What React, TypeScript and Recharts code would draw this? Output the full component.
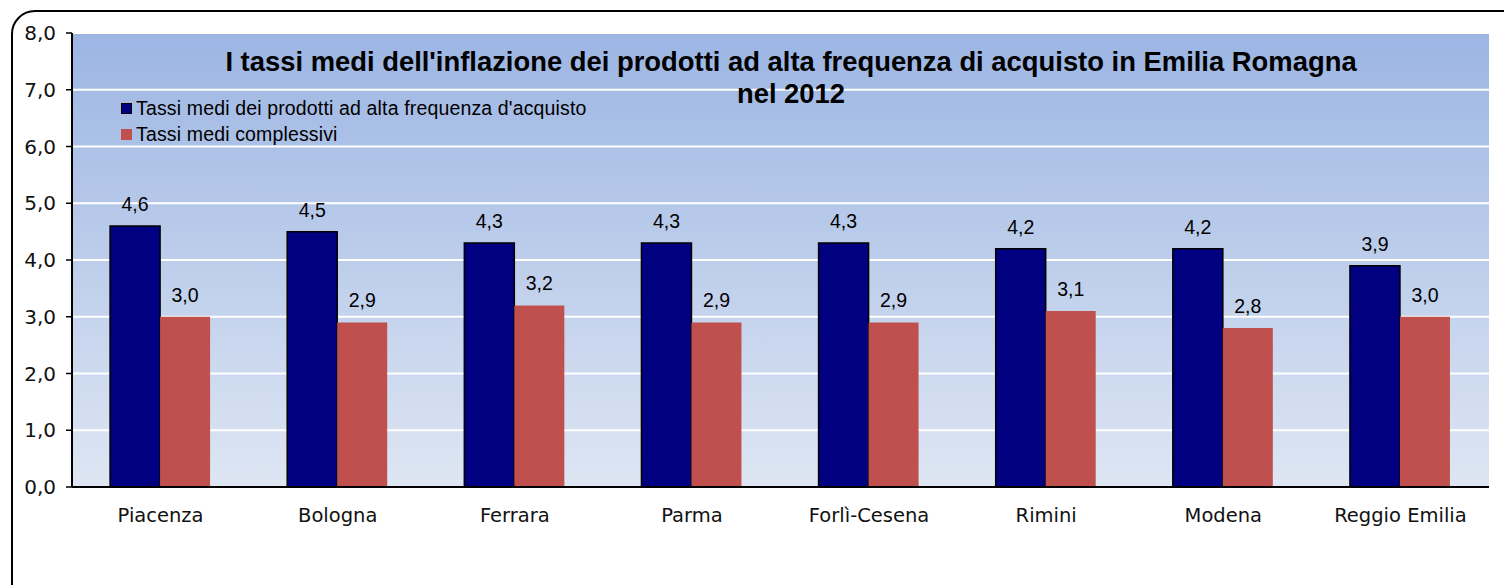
import React from 'react';
import {
  BarChart, Bar, XAxis, YAxis, CartesianGrid, LabelList, Legend,
} from 'recharts';

const categories = ['Piacenza', 'Bologna', 'Ferrara', 'Parma', 'Forlì-Cesena', 'Rimini', 'Modena', 'Reggio Emilia'];
const highFreqRates = [4.6, 4.5, 4.3, 4.3, 4.3, 4.2, 4.2, 3.9];
const overallRates = [3.0, 2.9, 3.2, 2.9, 2.9, 3.1, 2.8, 3.0];
const yTicks = [0, 1, 2, 3, 4, 5, 6, 7, 8];
const edgeTicks = [0, 1, 2, 3, 4, 5, 6, 7, 8];
const seriesNames = ['Tassi medi dei prodotti ad alta frequenza d\'acquisto', 'Tassi medi complessivi'];
const seriesColors = ['#000080', '#C0504D'];
const titleLines = ['I tassi medi dell\'inflazione dei prodotti ad alta frequenza di acquisto in Emilia Romagna', 'nel 2012'];

const data = categories.map((name, i) => ({
  name,
  alta: highFreqRates[i],
  complessivi: overallRates[i],
}));

const fmt = (v: any) => Number(v).toFixed(1).replace('.', ',');

const LegendContent = (props: any) => {
  const payload = [...(props.payload || [])].sort(
    (a: any, b: any) => seriesNames.indexOf(a.value) - seriesNames.indexOf(b.value),
  );
  return (
    <div style={{ fontFamily: '"Liberation Sans", Arial, sans-serif', fontSize: 19.5, letterSpacing: 0.15, color: '#000' }}>
      {payload.map((p: any, i: number) => {
        const first = p.value === seriesNames[0];
        return (
          <div key={i} style={{ display: 'flex', alignItems: 'center', height: 26, lineHeight: '26px', whiteSpace: 'nowrap' }}>
            <span
              style={{
                display: 'inline-block',
                width: first ? 9 : 11,
                height: first ? 9 : 11,
                background: p.color,
                border: first ? '1px solid #000' : 'none',
                marginRight: 4,
              }}
            />
            <span>{p.value}</span>
          </div>
        );
      })}
    </div>
  );
};

export default function App() {
  return (
    <div style={{ position: 'absolute', left: 0, top: 0, width: 1504, height: 585, overflow: 'hidden', background: '#fff' }}>
      <div
        style={{
          position: 'absolute', left: 11, top: 10, width: 1530, height: 610,
          border: '2px solid #000', borderRadius: 24, boxSizing: 'border-box',
        }}
      />
      <div style={{ position: 'absolute', left: 0, top: 0 }}>
        <BarChart
          width={1504}
          height={585}
          data={data}
          margin={{ top: 33, right: 15, bottom: 38, left: 0 }}
          barCategoryGap="21.5%"
          barGap={0}
        >
          <defs>
            <linearGradient id="plotBg" x1="0" y1="0" x2="0" y2="1">
              <stop offset="0%" stopColor="#9CB5E3" />
              <stop offset="100%" stopColor="#DEE6F3" />
            </linearGradient>
          </defs>
          <CartesianGrid
            xAxisId="cat"
            yAxisId="left"
            vertical={false}
            stroke="#ffffff"
            strokeWidth={2}
            fill="url(#plotBg)"
            fillOpacity={1}
          />
          <XAxis
            xAxisId="edges"
            type="number"
            domain={[0, 8]}
            ticks={edgeTicks}
            allowDataOverflow
            tick={false}
            tickSize={7}
            tickLine={{ stroke: '#000', strokeWidth: 1.5 }}
            axisLine={false}
            height={0}
          />
          <XAxis
            xAxisId="cat"
            dataKey="name"
            type="category"
            height={60}
            tickSize={6}
            tickMargin={15}
            tickLine={false}
            axisLine={{ stroke: '#000', strokeWidth: 2 }}
            interval={0}
            tick={{ fontFamily: '"DejaVu Sans", Verdana, sans-serif', fontSize: 19.5, fill: '#111' }}
          />
          <XAxis
            xAxisId="top"
            orientation="top"
            type="number"
            domain={[0, 8]}
            allowDataOverflow
            height={0}
            tick={false}
            tickLine={false}
            axisLine={{ stroke: '#404040', strokeWidth: 1 }}
          />
          <YAxis
            yAxisId="left"
            domain={[0, 8]}
            ticks={yTicks}
            allowDataOverflow
            width={72}
            tickSize={6}
            tickMargin={10}
            tickFormatter={fmt}
            tickLine={{ stroke: '#000', strokeWidth: 1.5 }}
            axisLine={{ stroke: '#000', strokeWidth: 2 }}
            tick={{ fontFamily: '"DejaVu Sans", Verdana, sans-serif', fontSize: 20, fill: '#111' }}
          />
          <YAxis
            yAxisId="right"
            orientation="right"
            domain={[0, 8]}
            allowDataOverflow
            width={0}
            tick={false}
            tickLine={false}
            axisLine={{ stroke: '#404040', strokeWidth: 1 }}
          />
          <Legend
            layout="vertical"
            align="center"
            verticalAlign="middle"
            content={<LegendContent />}
            wrapperStyle={{ position: 'absolute', left: 121, top: 95, width: 'auto', height: 'auto' }}
          />
          <Bar
            xAxisId="cat"
            yAxisId="left"
            dataKey="alta"
            name={seriesNames[0]}
            fill={seriesColors[0]}
            stroke="#000"
            strokeWidth={1.5}
            isAnimationActive={false}
          >
            <LabelList
              dataKey="alta"
              position="top"
              offset={15}
              formatter={fmt}
              style={{ fontFamily: '"Liberation Sans", Arial, sans-serif', fontSize: 19.5, fill: '#000' }}
            />
          </Bar>
          <Bar
            xAxisId="cat"
            yAxisId="left"
            dataKey="complessivi"
            name={seriesNames[1]}
            fill={seriesColors[1]}
            isAnimationActive={false}
          >
            <LabelList
              dataKey="complessivi"
              position="top"
              offset={15}
              formatter={fmt}
              style={{ fontFamily: '"Liberation Sans", Arial, sans-serif', fontSize: 19.5, fill: '#000' }}
            />
          </Bar>
        </BarChart>
      </div>
      <div
        style={{
          position: 'absolute', left: 141, top: 46, width: 1300, textAlign: 'center',
          fontFamily: '"Liberation Sans", Arial, sans-serif', fontWeight: 'bold', fontSize: 27.4,
          lineHeight: '32px', color: '#000', pointerEvents: 'none', whiteSpace: 'nowrap',
        }}
      >
        <div>{titleLines[0]}</div>
        <div>{titleLines[1]}</div>
      </div>
    </div>
  );
}
